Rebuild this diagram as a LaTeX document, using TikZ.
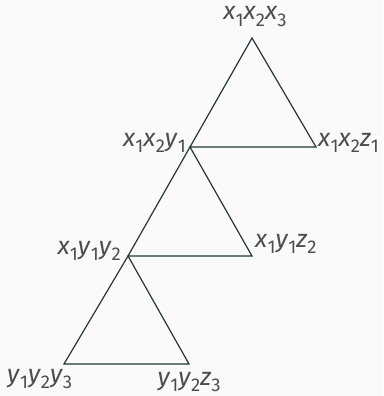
\documentclass[tikz,border=0pt]{standalone}
\usepackage{fontspec}
\setmainfont{Fira Sans}
\definecolor{edgecol}{HTML}{23373B}
\definecolor{labelcol}{HTML}{4D4D4D}
\definecolor{bgcol}{HTML}{FAFAFA}
\newcommand{\vsub}[2]{\textit{#1}\raisebox{-.24em}{\fontsize{18.5}{18.5}\selectfont #2}}

\begin{document}
\begin{tikzpicture}[x=1pt,y=-1pt,
    edge/.style={draw=edgecol,line width=1.2pt,line join=miter},
    lbl/.style={text=labelcol,font=\fontsize{25}{29}\selectfont,inner sep=0pt}]
    \fill[bgcol] (0,0) rectangle (383,396);
    \useasboundingbox (0,0) rectangle (383,396);
    % corners of the three triangles
    \coordinate (xxx) at (252,38);
    \coordinate (xxy) at (190,147);
    \coordinate (xxz) at (316,147);
    \coordinate (xyy) at (128,256);
    \coordinate (xyz) at (252,256);
    \coordinate (yyy) at (64,364);
    \coordinate (yyz) at (189,364);
    \foreach \p/\q/\r in {xxx/xxy/xxz,xxy/xyy/xyz,xyy/yyy/yyz} {
        \draw[edge] (\p) -- (\q) -- (\r) -- cycle;
    }
    % labels
    \node (l-xxx) [lbl,anchor=base] at (255,20) {\vsub{x}{1}\vsub{x}{2}\vsub{x}{3}};
    \node (l-xxy) [lbl,anchor=base east] at (186,146) {\vsub{x}{1}\vsub{x}{2}\vsub{y}{1}};
    \node (l-xxz) [lbl,anchor=base west] at (318,146) {\vsub{x}{1}\vsub{x}{2}\vsub{z}{1}};
    \node (l-xyy) [lbl,anchor=base east] at (121,254) {\vsub{x}{1}\vsub{y}{1}\vsub{y}{2}};
    \node (l-xyz) [lbl,anchor=base west] at (255,247) {\vsub{x}{1}\vsub{y}{1}\vsub{z}{2}};
    \node (l-yyy) [lbl,anchor=base west] at (7,382) {\vsub{y}{1}\vsub{y}{2}\vsub{y}{3}};
    \node (l-yyz) [lbl,anchor=base] at (189,385) {\vsub{y}{1}\vsub{y}{2}\vsub{z}{3}};
\end{tikzpicture}
\end{document}
